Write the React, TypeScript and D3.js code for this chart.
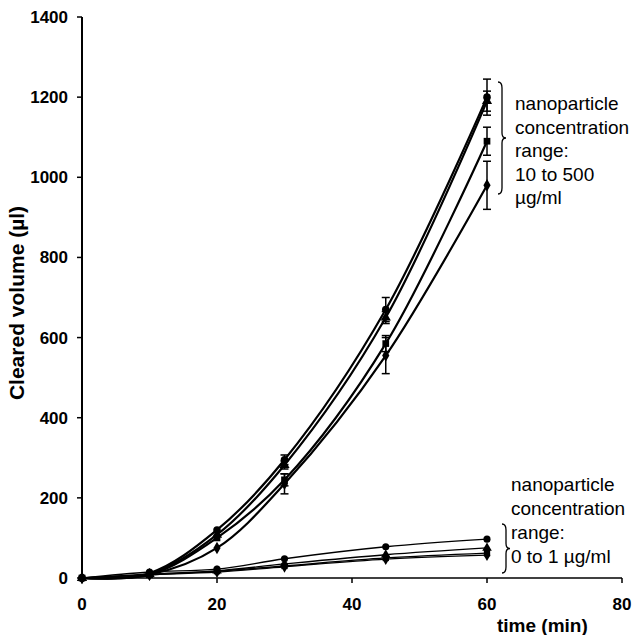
import React from "react";
import * as d3 from "d3";

// time points (min)
const times = [0, 10, 20, 30, 45, 60];

// high group: 10 to 500 ug/ml
const highA = [0, 12, 120, 295, 670, 1200];
const highB = [0, 10, 108, 282, 650, 1190];
const highC = [0, 8, 100, 245, 585, 1090];
const highD = [0, 8, 75, 235, 555, 980];
const errA = [0, 2, 6, 12, 30, 45];
const errB = [0, 2, 5, 10, 15, 25];
const errC = [0, 2, 5, 15, 20, 35];
const errD = [0, 2, 5, 25, 45, 60];

// low group: 0 to 1 ug/ml
const lowA = [0, 15, 22, 48, 78, 97];
const lowB = [0, 10, 18, 35, 58, 75];
const lowC = [0, 8, 17, 30, 50, 62];
const lowD = [0, 8, 15, 28, 47, 57];

const xTicks = [0, 20, 40, 60, 80];
const yTicks = [0, 200, 400, 600, 800, 1000, 1200, 1400];

const upperNote = ["nanoparticle", "concentration", "range:", "10 to 500", "\u00b5g/ml"];
const lowerNote = ["nanoparticle", "concentration", "range:", "0 to 1 \u00b5g/ml"];

const W = 641;
const H = 635;
const FONT = "Arial, 'Liberation Sans', sans-serif";

const App = () => {
  const ref = React.useRef<SVGSVGElement>(null);

  React.useEffect(() => {
    const svg = d3.select(ref.current);
    svg.selectAll("*").remove();

    const x = d3.scaleLinear().domain([0, 80]).range([82, 622]);
    const y = d3.scaleLinear().domain([0, 1400]).range([578, 17]);

    // axes
    svg.append("line")
      .attr("x1", x(0)).attr("x2", x(0))
      .attr("y1", y(0)).attr("y2", y(1400))
      .attr("stroke", "black").attr("stroke-width", 2);
    svg.append("line")
      .attr("x1", x(0)).attr("x2", x(80))
      .attr("y1", y(0)).attr("y2", y(0))
      .attr("stroke", "black").attr("stroke-width", 1.5);

    yTicks.forEach((t) => {
      svg.append("line")
        .attr("x1", x(0) - 5).attr("x2", x(0))
        .attr("y1", y(t)).attr("y2", y(t))
        .attr("stroke", "black").attr("stroke-width", 1.5);
      svg.append("text")
        .attr("x", 68).attr("y", y(t) + 6)
        .attr("text-anchor", "end")
        .attr("font-family", FONT).attr("font-size", 17).attr("font-weight", "bold")
        .text(t);
    });
    xTicks.forEach((t) => {
      svg.append("line")
        .attr("x1", x(t)).attr("x2", x(t))
        .attr("y1", y(0)).attr("y2", y(0) + 5)
        .attr("stroke", "black").attr("stroke-width", 1.5);
      svg.append("text")
        .attr("x", x(t)).attr("y", 610)
        .attr("text-anchor", "middle")
        .attr("font-family", FONT).attr("font-size", 17).attr("font-weight", "bold")
        .text(t);
    });

    svg.append("text")
      .attr("transform", "translate(24,303) rotate(-90)")
      .attr("text-anchor", "middle")
      .attr("font-family", FONT).attr("font-size", 21).attr("font-weight", "bold")
      .text("Cleared volume (\u00b5l)");
    svg.append("text")
      .attr("x", 497).attr("y", 632)
      .attr("font-family", FONT).attr("font-size", 19).attr("font-weight", "bold")
      .text("time (min)");

    const smooth = d3.line<number>()
      .x((_, i) => x(times[i]))
      .y((d) => y(d))
      .curve(d3.curveCatmullRom);

    const symbols = [d3.symbolCircle, d3.symbolTriangle, d3.symbolSquare, d3.symbolDiamond];

    const drawSeries = (vals: number[], errs: number[] | null, sym: d3.SymbolType, lw: number, size: number) => {
      svg.append("path")
        .attr("d", smooth(vals))
        .attr("fill", "none")
        .attr("stroke", "black")
        .attr("stroke-width", lw);
      if (errs) {
        vals.forEach((v, i) => {
          if (errs[i] < 8) return;
          const cx = x(times[i]);
          const g = svg.append("g").attr("stroke", "black").attr("stroke-width", 1.5);
          g.append("line").attr("x1", cx).attr("x2", cx)
            .attr("y1", y(v - errs[i])).attr("y2", y(v + errs[i]));
          g.append("line").attr("x1", cx - 4).attr("x2", cx + 4)
            .attr("y1", y(v - errs[i])).attr("y2", y(v - errs[i]));
          g.append("line").attr("x1", cx - 4).attr("x2", cx + 4)
            .attr("y1", y(v + errs[i])).attr("y2", y(v + errs[i]));
        });
      }
      svg.append("g").selectAll("path")
        .data(vals)
        .join("path")
        .attr("transform", (d, i) => `translate(${x(times[i])},${y(d)})`)
        .attr("d", d3.symbol().type(sym).size(size)())
        .attr("fill", "black");
    };

    drawSeries(lowA, null, symbols[0], 1.3, 40);
    drawSeries(lowB, null, symbols[1], 1.3, 40);
    drawSeries(lowC, null, symbols[2], 1.3, 40);
    drawSeries(lowD, null, symbols[3], 1.3, 40);

    drawSeries(highA, errA, symbols[0], 2.2, 45);
    drawSeries(highB, errB, symbols[1], 2.2, 45);
    drawSeries(highC, errC, symbols[2], 2.2, 45);
    drawSeries(highD, errD, symbols[3], 2.2, 45);

    // braces
    const brace = (xb: number, y0: number, y1: number) => {
      const m = (y0 + y1) / 2;
      const p = d3.path();
      p.moveTo(xb, y0);
      p.quadraticCurveTo(xb + 4, y0, xb + 4, y0 + 6);
      p.lineTo(xb + 4, m - 5);
      p.quadraticCurveTo(xb + 4, m, xb + 8, m);
      p.quadraticCurveTo(xb + 4, m, xb + 4, m + 5);
      p.lineTo(xb + 4, y1 - 6);
      p.quadraticCurveTo(xb + 4, y1, xb, y1);
      svg.append("path").attr("d", p.toString())
        .attr("fill", "none").attr("stroke", "black").attr("stroke-width", 1.3);
    };
    brace(498, 82, 194);
    brace(502, 524, 573);

    upperNote.forEach((s, i) => {
      svg.append("text")
        .attr("x", 515).attr("y", 110 + i * 23.5)
        .attr("font-family", FONT).attr("font-size", 19)
        .text(s);
    });
    lowerNote.forEach((s, i) => {
      svg.append("text")
        .attr("x", 511).attr("y", 491 + i * 24)
        .attr("font-family", FONT).attr("font-size", 19)
        .text(s);
    });
  }, []);

  return (
    <svg
      ref={ref}
      width={W}
      height={H}
      style={{ position: "absolute", left: 0, top: 0, background: "white" }}
    />
  );
};

export default App;
